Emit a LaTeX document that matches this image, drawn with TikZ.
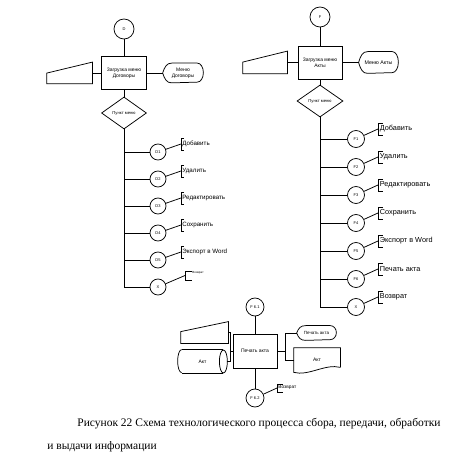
\documentclass[tikz,border=0pt]{standalone}
\usepackage{fontspec}
\setmainfont{Liberation Serif}
\setsansfont{Liberation Sans}
\usetikzlibrary{shapes.geometric}

\begin{document}
\begin{tikzpicture}[x=1pt, y=1pt, line width=0.75pt,
  every node/.style={font=\sffamily\fontsize{5}{6}\selectfont},
  proc/.style={draw, minimum width=45pt, minimum height=33pt, inner sep=1pt, align=center},
  pnt/.style={draw, circle, minimum size=16pt, inner sep=0pt, font=\sffamily\fontsize{4}{5}\selectfont},
  term/.style={draw, circle, minimum size=20pt, inner sep=0pt, font=\sffamily\fontsize{4}{5}\selectfont},
  menu/.style={draw, diamond, minimum width=45pt, minimum height=32pt, inner sep=0pt, font=\sffamily\fontsize{4.2}{5}\selectfont},
  frame/.style={inner sep=0pt, align=center},
  itemL/.style={anchor=west, inner sep=1pt, font=\sffamily\fontsize{6.2}{7}\selectfont},
  itemR/.style={anchor=west, inner sep=1.5pt, font=\sffamily\fontsize{7.3}{8}\selectfont}]
\useasboundingbox (0,0) rectangle (462,460);

% Договоры
\node[term] (d0) at (124,431) {D};
\node[proc] (zL) at (124,387) {Загрузка меню\\Договоры};
\node[frame, minimum width=45pt, minimum height=21pt] (tL) at (69.5,387) {};
\draw (tL.south west) -- (tL.south east) -- (tL.north east) -- ([yshift=-11pt]tL.north west) -- cycle;
\node[frame, minimum width=40pt, minimum height=19pt] (mL) at (183,387) {Меню\\Договоры};
\draw (mL.west) .. controls ([xshift=2pt,yshift=6pt]mL.west) and ([xshift=4pt]mL.north west) .. ([xshift=9pt]mL.north west) -- ([xshift=-6pt]mL.north east) arc[start angle=90, end angle=-90, x radius=6pt, y radius=9.5pt] -- ([xshift=9pt]mL.south west) .. controls ([xshift=4pt]mL.south west) and ([xshift=2pt,yshift=-6pt]mL.west) .. (mL.west);
\node[menu] (pL) at (124,347) {Пункт меню};
\draw (d0) -- (zL);
\draw (zL) -- (pL);
\draw (tL.east) -- (zL.west);
\draw (zL.east) -- (mL.west);

\node[pnt] (d1) at (158,308) {D1};
\node[pnt] (d2) at (158,281) {D2};
\node[pnt] (d3) at (158,254) {D3};
\node[pnt] (d4) at (158,227) {D4};
\node[pnt] (d5) at (158,200) {D5};
\node[pnt] (xL) at (158,173) {X};
\draw (pL.south) -- (pL.south |- xL);
\draw (d1) -- (d1 -| pL.south);
\draw (d2) -- (d2 -| pL.south);
\draw (d3) -- (d3 -| pL.south);
\draw (d4) -- (d4 -| pL.south);
\draw (d5) -- (d5 -| pL.south);
\draw (xL) -- (xL -| pL.south);

\coordinate (bd1) at (181,316);
\coordinate (bd2) at (181,289);
\coordinate (bd3) at (181,262);
\coordinate (bd4) at (181,235);
\coordinate (bd5) at (181,208);
\coordinate (bxL) at (185,184.5);
\draw (d1) -- (bd1);
\draw (d2) -- (bd2);
\draw (d3) -- (bd3);
\draw (d4) -- (bd4);
\draw (d5) -- (bd5);
\draw (xL) -- (bxL);
\draw ([xshift=3pt,yshift=6pt]bd1) -| ([yshift=-6pt]bd1) -- ++(3,0);
\draw ([xshift=3pt,yshift=6pt]bd2) -| ([yshift=-6pt]bd2) -- ++(3,0);
\draw ([xshift=3pt,yshift=6pt]bd3) -| ([yshift=-6pt]bd3) -- ++(3,0);
\draw ([xshift=3pt,yshift=6pt]bd4) -| ([yshift=-6pt]bd4) -- ++(3,0);
\draw ([xshift=3pt,yshift=6pt]bd5) -| ([yshift=-6pt]bd5) -- ++(3,0);
\draw ([xshift=7pt,yshift=4.5pt]bxL) -| ([yshift=-4.5pt]bxL) -- ++(7,0);
\node[itemL] (ld1) at (bd1) {Добавить};
\node[itemL] (ld2) at (bd2) {Удалить};
\node[itemL] (ld3) at (bd3) {Редактировать};
\node[itemL] (ld4) at (bd4) {Сохранить};
\node[itemL] (ld5) at (bd5) {Экспорт в Word};
\node[anchor=west, inner sep=0pt, font=\sffamily\fontsize{3}{4}\selectfont] (lxL) at ([xshift=7pt,yshift=2.5pt]bxL) {Возврат};

% Акты
\node[term] (f0) at (320,443) {F};
\node[proc, minimum width=44pt] (zR) at (320,397.5) {Загрузка меню\\Акты};
\node[frame, minimum width=44pt, minimum height=22pt] (tR) at (265,397.5) {};
\draw (tR.south west) -- (tR.south east) -- (tR.north east) -- ([yshift=-11pt]tR.north west) -- cycle;
\node[frame, minimum width=39pt, minimum height=21pt, font=\sffamily\fontsize{5.3}{6}\selectfont] (mR) at (378.5,397.5) {Меню Акты};
\draw (mR.west) .. controls ([xshift=2pt,yshift=7pt]mR.west) and ([xshift=4pt]mR.north west) .. ([xshift=9pt]mR.north west) -- ([xshift=-6pt]mR.north east) arc[start angle=90, end angle=-90, x radius=6pt, y radius=10.5pt] -- ([xshift=9pt]mR.south west) .. controls ([xshift=4pt]mR.south west) and ([xshift=2pt,yshift=-7pt]mR.west) .. (mR.west);
\node[menu, minimum width=46pt] (pR) at (320,359) {Пункт меню};
\draw (f0) -- (zR);
\draw (zR) -- (pR);
\draw (tR.east) -- (zR.west);
\draw (zR.east) -- (mR.west);

\node[pnt, minimum size=17pt] (f1) at (356,321) {F1};
\node[pnt, minimum size=17pt] (f2) at (356,293) {F2};
\node[pnt, minimum size=17pt] (f3) at (356,265) {F3};
\node[pnt, minimum size=17pt] (f4) at (356,237) {F4};
\node[pnt, minimum size=17pt] (f5) at (356,209) {F5};
\node[pnt, minimum size=17pt] (f6) at (356,181) {F6};
\node[pnt, minimum size=17pt] (xR) at (356,153) {X};
\draw (pR.south) -- (pR.south |- xR);
\draw (f1) -- (f1 -| pR.south);
\draw (f2) -- (f2 -| pR.south);
\draw (f3) -- (f3 -| pR.south);
\draw (f4) -- (f4 -| pR.south);
\draw (f5) -- (f5 -| pR.south);
\draw (f6) -- (f6 -| pR.south);
\draw (xR) -- (xR -| pR.south);

\coordinate (bf1) at (378,331);
\coordinate (bf2) at (378,303);
\coordinate (bf3) at (378,275);
\coordinate (bf4) at (378,247);
\coordinate (bf5) at (378,219);
\coordinate (bf6) at (378,191);
\coordinate (bxR) at (378,163);
\draw (f1) -- (bf1);
\draw (f2) -- (bf2);
\draw (f3) -- (bf3);
\draw (f4) -- (bf4);
\draw (f5) -- (bf5);
\draw (f6) -- (bf6);
\draw (xR) -- (bxR);
\draw ([xshift=5pt,yshift=6pt]bf1) -| ([yshift=-6pt]bf1) -- ++(5,0);
\draw ([xshift=5pt,yshift=6pt]bf2) -| ([yshift=-6pt]bf2) -- ++(5,0);
\draw ([xshift=5pt,yshift=6pt]bf3) -| ([yshift=-6pt]bf3) -- ++(5,0);
\draw ([xshift=5pt,yshift=6pt]bf4) -| ([yshift=-6pt]bf4) -- ++(5,0);
\draw ([xshift=5pt,yshift=6pt]bf5) -| ([yshift=-6pt]bf5) -- ++(5,0);
\draw ([xshift=5pt,yshift=6pt]bf6) -| ([yshift=-6pt]bf6) -- ++(5,0);
\draw ([xshift=5pt,yshift=6pt]bxR) -| ([yshift=-6pt]bxR) -- ++(5,0);
\node[itemR] (lf1) at (bf1) {Добавить};
\node[itemR] (lf2) at (bf2) {Удалить};
\node[itemR] (lf3) at (bf3) {Редактировать};
\node[itemR] (lf4) at (bf4) {Сохранить};
\node[itemR] (lf5) at (bf5) {Экспорт в Word};
\node[itemR] (lf6) at (bf6) {Печать акта};
\node[itemR] (lxR) at (bxR) {Возврат};

% Печать акта
\node[term, minimum size=18pt] (f61) at (255,153) {F 6.1};
\node[proc, minimum width=44pt, minimum height=34pt] (pa) at (255,109) {Печать акта};
\node[term, minimum size=18pt] (f62) at (255,62) {F 6.2};
\draw (f61) -- (pa);
\draw (pa) -- (f62);

\node[frame, minimum width=47pt, minimum height=21pt] (tB) at (204.5,127.5) {};
\draw (tB.south west) -- (tB.south east) -- (tB.north east) -- ([yshift=-10pt]tB.north west) -- cycle;
\node[frame, minimum width=49pt, minimum height=23pt] (cB) at (202.5,98.5) {Акт};
\draw ([xshift=4pt]cB.north west) -- ([xshift=-4pt]cB.north east);
\draw ([xshift=4pt]cB.south west) -- ([xshift=-4pt]cB.south east);
\draw ([xshift=4pt]cB.north west) arc[start angle=90, end angle=270, x radius=4pt, y radius=11.5pt];
\draw ([xshift=-4pt]cB.east) ellipse[x radius=4pt, y radius=11.5pt];
\coordinate (jL) at (230,109);
\draw (pa.west) -- (jL);
\draw (tB.east) -| (jL);
\draw (cB.east) -| (jL);

\node[frame, minimum width=39pt, minimum height=14pt, font=\sffamily\fontsize{4.5}{5}\selectfont] (mB) at (316.5,127) {Печать акта};
\draw (mB.west) .. controls ([xshift=2pt,yshift=5pt]mB.west) and ([xshift=4pt]mB.north west) .. ([xshift=9pt]mB.north west) -- ([xshift=-6pt]mB.north east) arc[start angle=90, end angle=-90, x radius=6pt, y radius=7pt] -- ([xshift=9pt]mB.south west) .. controls ([xshift=4pt]mB.south west) and ([xshift=2pt,yshift=-5pt]mB.west) .. (mB.west);
\node[frame, minimum width=46pt, minimum height=24pt] (dB) at (317,100) {Акт};
\draw ([yshift=5pt]dB.south east) -- (dB.north east) -- (dB.north west) -- (dB.south west) .. controls ([xshift=15pt,yshift=-4pt]dB.south west) and ([xshift=-15pt,yshift=9pt]dB.south east) .. ([yshift=5pt]dB.south east);
\coordinate (jR) at (285,109);
\draw (pa.east) -- (jR);
\draw (mB.west) -| (jR);
\draw (dB.west) -| (jR);

\coordinate (bz) at (277,72);
\draw (f62) -- (bz);
\draw ([xshift=6pt,yshift=4pt]bz) -| ([yshift=-4pt]bz) -- ++(6,0);
\node[anchor=west, inner sep=1pt, font=\sffamily\fontsize{4.8}{5}\selectfont] (lz) at ([yshift=1pt]bz) {Возврат};

\node[anchor=base west, inner sep=0pt, font=\rmfamily\fontsize{11.5}{13}\selectfont] (cap1) at (77,34) {Рисунок 22 Схема технологического процесса сбора, передачи, обработки};
\node[anchor=base west, inner sep=0pt, font=\rmfamily\fontsize{11.5}{13}\selectfont] (cap2) at (47,11) {и выдачи информации};
\end{tikzpicture}
\end{document}
